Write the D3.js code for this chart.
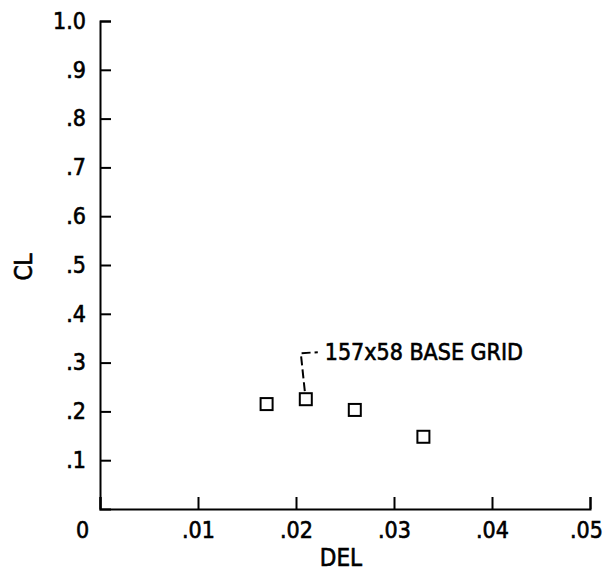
<!DOCTYPE html>
<html>
<head>
<meta charset="utf-8">
<script src="https://cdn.jsdelivr.net/npm/d3@7"></script>
<style>
    body { margin: 0; background: #fff; }
    svg text {
        font-family: "DejaVu Sans Condensed", "DejaVu Sans", sans-serif;
        font-stretch: condensed;
        fill: #000;
        stroke: #000;
        stroke-width: 0.6px;
    }
</style>
</head>
<body>
<svg id="chart" width="604" height="573"></svg>
<script>
// values
const delValues = [0.017, 0.021, 0.026, 0.033];
const clValues = [0.215, 0.225, 0.203, 0.148];
const xTicks = [0, 0.01, 0.02, 0.03, 0.04, 0.05];
const yTicks = [0.1, 0.2, 0.3, 0.4, 0.5, 0.6, 0.7, 0.8, 0.9, 1.0];
const noteText = '157x58 BASE GRID';
const noteIndex = 1;

const svg = d3.select('#chart');

const x = d3.scaleLinear()
    .domain([0, 0.05])
    .range([100, 590]);

const y = d3.scaleLinear()
    .domain([0, 1])
    .range([509, 21]);

const stripZero = v => {
    if (v === 0) {
        return '0';
    }
    if (v === 1) {
        return '1.0';
    }
    return d3.format(v < 0.1 ? '.2f' : '.1f')(v).replace(/^0/, '');
};

const xAxe = d3.axisBottom(x)
    .tickValues(xTicks)
    .tickFormat(stripZero)
    .tickSize(-12)
    .tickSizeOuter(-12)
    .tickPadding(13);

const yAxe = d3.axisLeft(y)
    .tickValues(yTicks)
    .tickFormat(stripZero)
    .tickSize(-11)
    .tickSizeOuter(-11)
    .tickPadding(14);

const gx = svg.append('g')
    .attr('transform', `translate(0,${y(0)})`)
    .call(xAxe);

const gy = svg.append('g')
    .attr('transform', `translate(${x(0)},0)`)
    .call(yAxe);

[gx, gy].forEach((g) => {
    g.selectAll('path, line')
        .attr('stroke', '#000')
        .attr('stroke-width', 2);
    g.selectAll('text')
        .style('font-size', '23px')
        .attr('fill', '#000');
});

// the origin "0" sits left of the corner, the last label hugs the edge
gx.selectAll('.tick')
    .filter(d => d === 0)
    .select('text')
    .attr('dx', -18);

gx.selectAll('.tick')
    .filter(d => d === 0.05)
    .select('text')
    .attr('dx', -4);

svg.append('text')
    .attr('transform', `translate(24,267) rotate(-90)`)
    .attr('text-anchor', 'middle')
    .attr('dominant-baseline', 'central')
    .style('font-size', '24px')
    .text('CL');

svg.append('text')
    .attr('x', 341)
    .attr('y', 558)
    .attr('text-anchor', 'middle')
    .attr('dominant-baseline', 'central')
    .style('font-size', '24px')
    .text('DEL');

const points = d3.zip(delValues, clValues);
const box = 12;

svg.append('g')
    .selectAll('rect')
    .data(points)
    .enter()
    .append('rect')
    .attr('x', d => x(d[0]) - box / 2)
    .attr('y', d => y(d[1]) - box / 2)
    .attr('width', box)
    .attr('height', box)
    .attr('fill', 'none')
    .attr('stroke', '#000')
    .attr('stroke-width', 2);

// leader to the note
const [nx, ny] = [x(points[noteIndex][0]), y(points[noteIndex][1])];

svg.append('path')
    .attr('d', `M${nx - 1},${ny - 8}L${nx - 5},${ny - 46}L${nx + 12},${ny - 47}`)
    .attr('fill', 'none')
    .attr('stroke', '#000')
    .attr('stroke-width', 2)
    .attr('stroke-dasharray', '9,4');

svg.append('text')
    .attr('x', nx + 19)
    .attr('y', ny - 39)
    .style('font-size', '23px')
    .text(noteText);
</script>
</body>
</html>
